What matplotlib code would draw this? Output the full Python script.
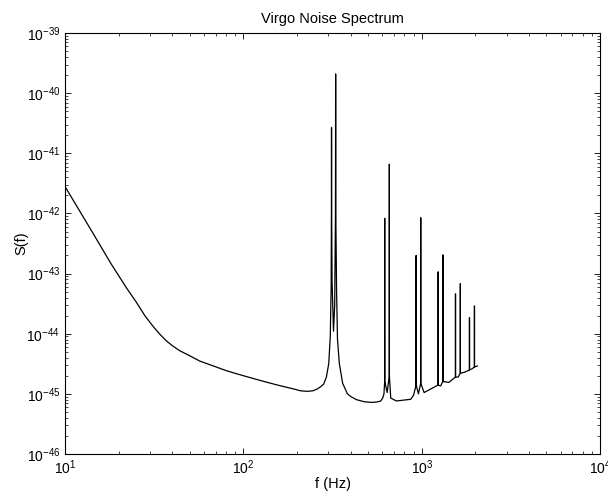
import matplotlib
matplotlib.use("Agg")
import matplotlib.pyplot as plt

plt.rcParams['font.family'] = ['Liberation Sans', 'DejaVu Sans']
plt.rcParams['mathtext.fontset'] = 'custom'
plt.rcParams['mathtext.rm'] = 'Liberation Sans'
plt.rcParams['mathtext.it'] = 'Liberation Sans:italic'
plt.rcParams['axes.unicode_minus'] = False

# points (Hz, 1/Hz)
freq = [10, 14.4, 18, 22, 25, 28, 31, 34, 37, 40, 44, 50, 57, 68, 81, 100, 125, 155,
        192, 210, 228, 245, 259, 270, 282, 292, 301, 307,
        310.5, 311.7, 312, 312.3, 314, 320, 325, 328.3, 329, 329.7, 333, 337, 345,
        360, 383, 400, 430, 474, 520, 560, 589, 605, 614,
        619.5, 620, 620.5, 640, 657.5, 658, 658.5, 670, 720,
        867, 900, 929.5, 930, 930.5, 958, 986.5, 987, 987.5, 1031,
        1235.5, 1236, 1236.5, 1275, 1313.5, 1314, 1314.5, 1420,
        1545.5, 1546, 1546.5, 1600, 1645.5, 1646, 1646.5, 1750,
        1851.5, 1852, 1852.5, 1912, 1974.5, 1975, 1975.5, 2050]
psd = [2.8e-42, 4.6e-43, 1.5e-43, 5.9e-44, 3.4e-44, 2.0e-44, 1.35e-44, 9.8e-45, 7.6e-45,
       6.3e-45, 5.2e-45, 4.3e-45, 3.5e-45, 2.9e-45, 2.4e-45, 2.0e-45, 1.66e-45, 1.4e-45,
       1.2e-45, 1.12e-45, 1.1e-45, 1.12e-45, 1.2e-45, 1.3e-45, 1.45e-45, 1.9e-45, 3.2e-45, 9e-45,
       6e-44, 1.5e-42, 2.7e-41, 1.5e-42, 8e-44, 1.1e-44, 3e-44, 1e-42, 2.1e-40, 1e-42,
       5e-44, 8e-45, 3.2e-45,
       1.5e-45, 1.0e-45, 9e-46, 8e-46, 7.4e-46, 7.2e-46, 7.3e-46, 7.6e-46, 8.6e-46, 1.0e-45,
       1.6e-45, 8.3e-43, 1.6e-45, 1.05e-45, 2e-45, 6.6e-42, 2e-45, 8.5e-46, 7.6e-46,
       8.1e-46, 9.5e-46, 1.4e-45, 2.0e-43, 1.4e-45, 1.0e-45, 1.5e-45, 8.5e-43, 1.5e-45, 1.05e-45,
       1.4e-45, 1.07e-43, 1.4e-45, 1.35e-45, 1.6e-45, 2.05e-43, 1.6e-45, 1.55e-45,
       1.9e-45, 4.6e-44, 1.9e-45, 1.9e-45, 2.2e-45, 6.8e-44, 2.2e-45, 2.3e-45,
       2.5e-45, 1.85e-44, 2.5e-45, 2.6e-45, 2.8e-45, 2.9e-44, 2.8e-45, 2.9e-45]

fig = plt.figure(figsize=(6.08, 4.95), dpi=100)
ax = fig.add_axes([0.107, 0.083, 0.880, 0.850])
ax.loglog(freq, psd, color='black', linewidth=0.9)
ax.set_xlim(10, 1e4)
ax.set_ylim(1e-46, 1e-39)
ax.set_title('Virgo Noise Spectrum', fontsize=10.5, pad=7)
ax.set_xlabel('f (Hz)', fontsize=10.5, labelpad=0)
ax.set_ylabel('S(f)', fontsize=10.5, labelpad=-1)
ax.tick_params(which='both', direction='in', top=True, right=True, labelsize=10)
ax.tick_params(which='major', length=4, width=0.6)
ax.tick_params(which='minor', length=2.2, width=0.5)
for s in ax.spines.values():
    s.set_linewidth(0.8)

fig.savefig('out.png', dpi=100)
